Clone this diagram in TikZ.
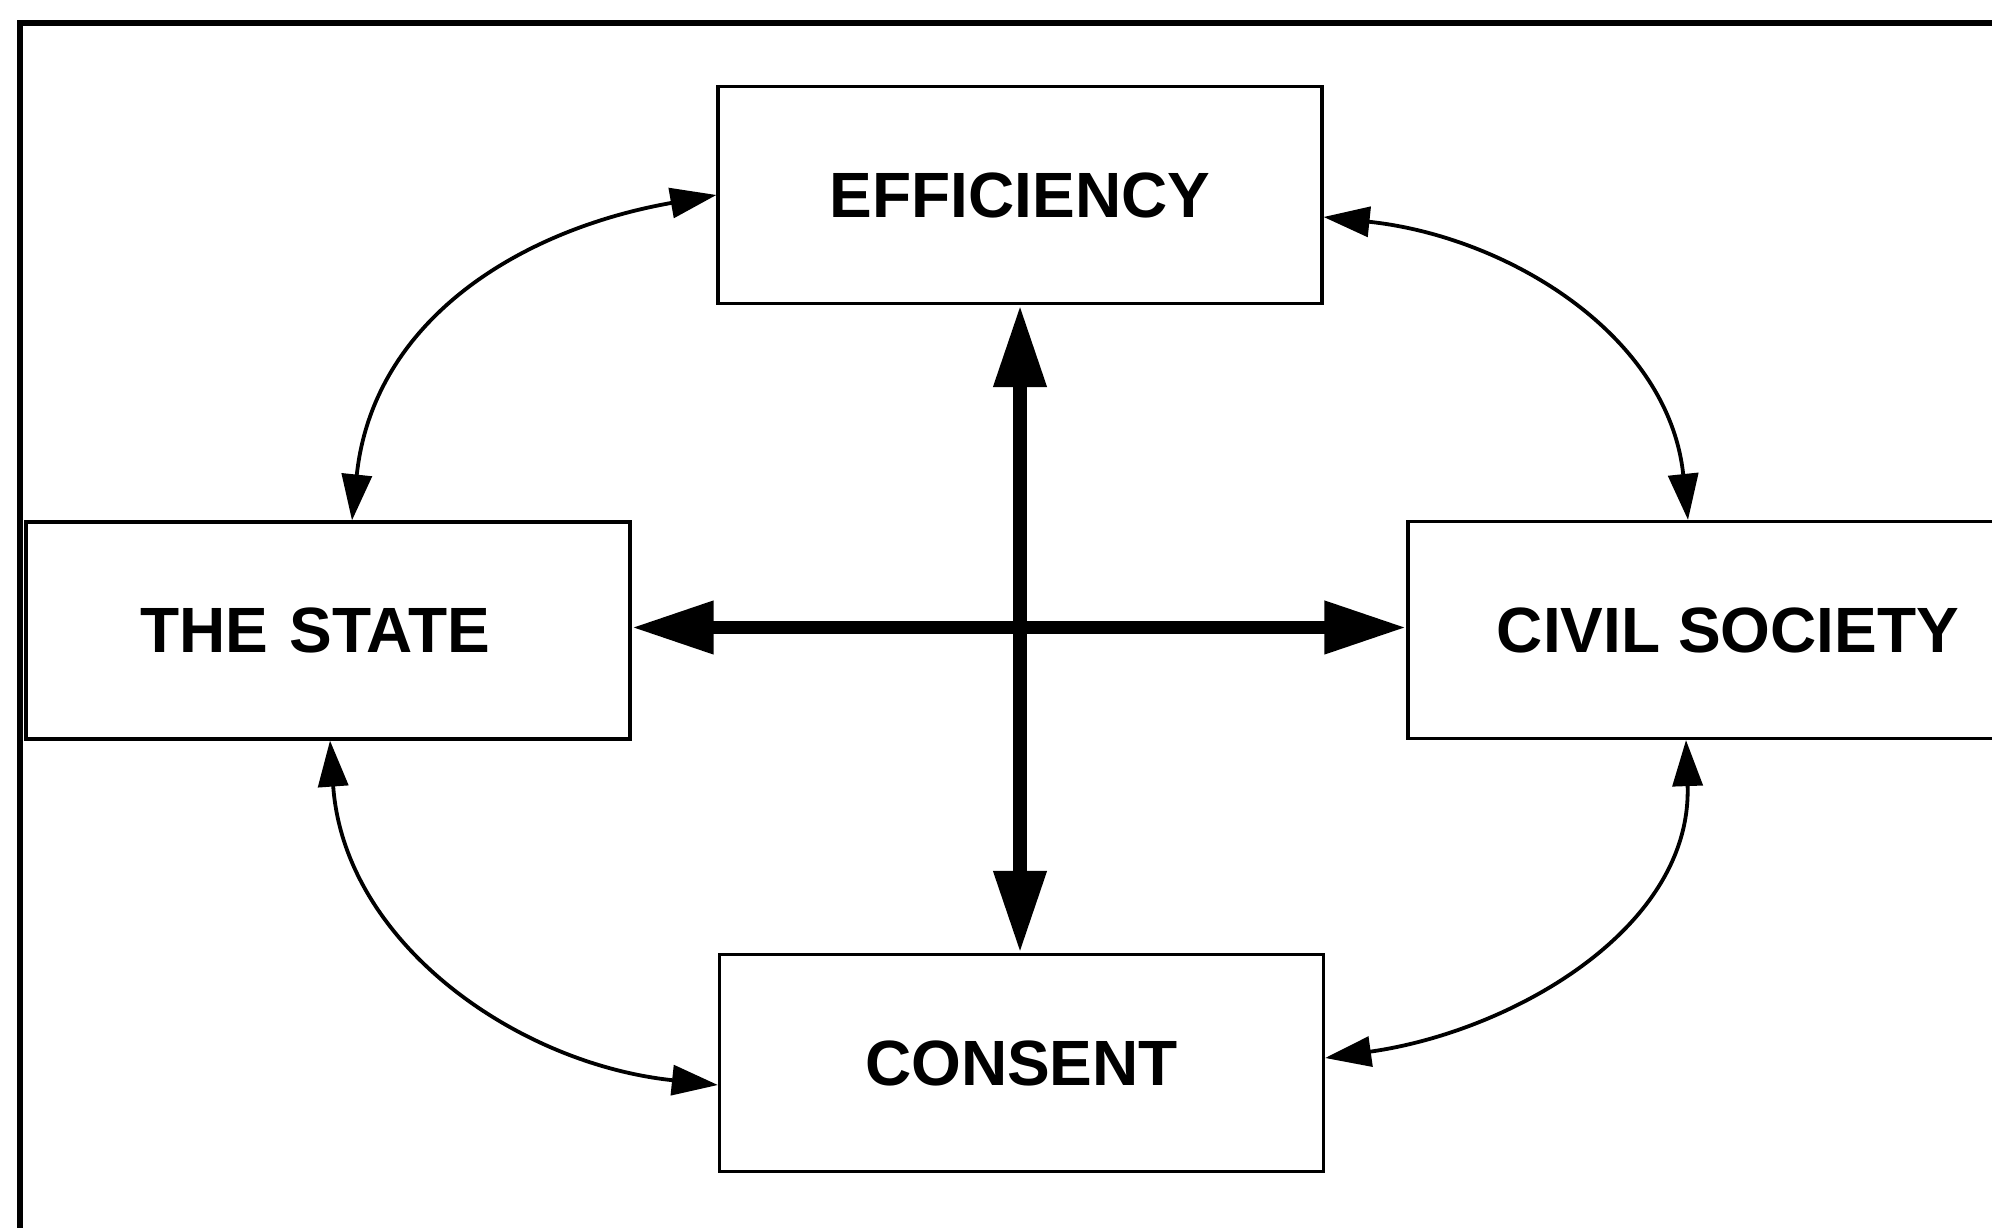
\documentclass[tikz,border=0pt]{standalone}
\usepackage{fontspec}
\setmainfont{Liberation Sans}
\usetikzlibrary{arrows.meta}
\begin{document}
\begin{tikzpicture}[x=0.5pt,y=0.5pt,
  box/.style={draw=black, line width=1.6pt, fill=white, inner sep=0pt,
    minimum width=302pt, minimum height=108.5pt,
    font=\fontsize{32pt}{38pt}\selectfont\bfseries},
  link/.style={line width=1.9pt,
    {Triangle[length=23pt,width=15pt]}-{Triangle[length=23pt,width=15pt]}},
  axis/.style={line width=6.8pt,
    {Triangle[length=41pt,width=25pt]}-{Triangle[length=41pt,width=25pt]}}]
  \useasboundingbox (0,0) rectangle (1992,1227);
  \clip (0,0) rectangle (1992,1227);
  \fill[white] (0,0) rectangle (1992,1227);
  % outer frame, running off the right and bottom edges
  \draw[line width=2.6pt] (20,-40) -- (20,1204) -- (2040,1204);

  % the four boxes
  \node[box] (eff)     at (1020,1032)  {EFFICIENCY};
  \node[box] (state)   at (328,596.5)  {THE\,\,STATE\kern13pt};
  \node[box, minimum width=320pt] (civil) at (1728,597) {CIVIL SOCIETY};
  \node[box] (consent) at (1021.5,164) {CONSENT};

  % central cross of heavy double arrows
  \draw[axis] (eff.south) -- (eff.south |- consent.north);
  \draw[axis] ([yshift=1.5pt]state.east) -- ([yshift=1.5pt]state.east -| civil.west);

  % curved links between neighbouring boxes
  \draw[link] ([xshift=12pt]state.north) to[out=84,in=190,looseness=1.05] (eff.west);
  \draw[link] ([yshift=-11pt]eff.east) to[out=-6,in=96] ([xshift=-20pt]civil.north);
  \draw[link] ([xshift=1pt]state.south) to[out=-86,in=174] ([yshift=-11pt]consent.west);
  \draw[link] ([yshift=2.5pt]consent.east) to[out=8,in=-88] ([xshift=-21pt]civil.south);
\end{tikzpicture}
\end{document}
